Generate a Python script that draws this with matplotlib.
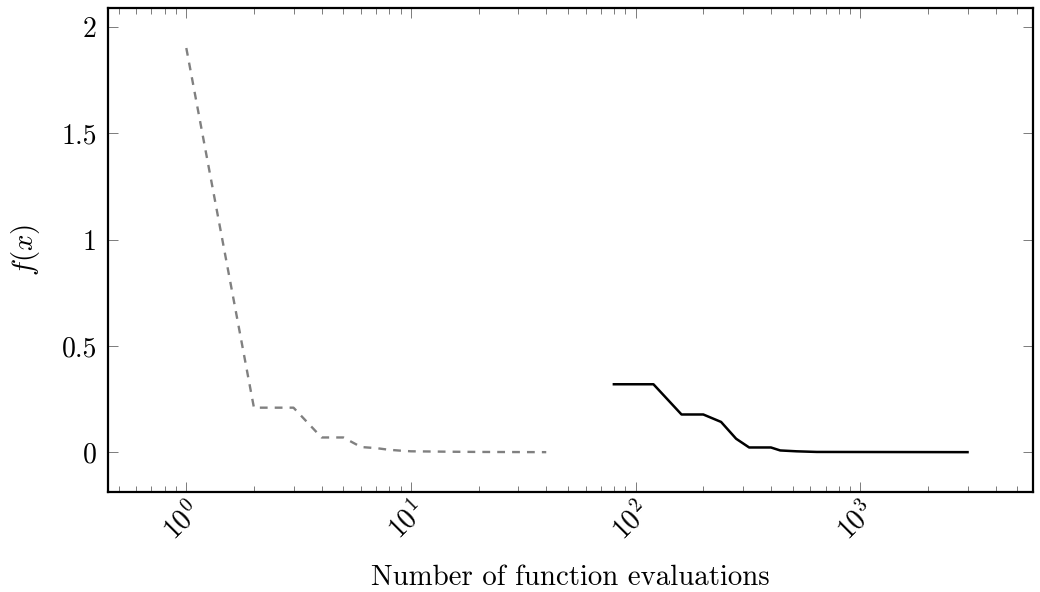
import matplotlib
matplotlib.use("Agg")
import matplotlib.pyplot as plt
from matplotlib.ticker import LogLocator, NullFormatter, FixedLocator

plt.rcParams["font.family"] = "serif"
plt.rcParams["font.serif"] = ["cmr10"]
plt.rcParams["mathtext.fontset"] = "cm"
plt.rcParams["axes.formatter.use_mathtext"] = True
plt.rcParams["axes.unicode_minus"] = False

# first optimiser: one evaluation per step
evals_a = [1, 2, 3, 4, 5, 6, 7, 8, 9, 10, 15, 20, 40]
fx_a = [1.9, 0.21, 0.21, 0.07, 0.07, 0.025, 0.02, 0.012, 0.008, 0.005, 0.003, 0.002, 0.001]

# second optimiser: batches of 40 evaluations
evals_b = [80, 120, 160, 200, 240, 280, 320, 360, 400, 440, 520, 640, 3000]
fx_b = [0.32, 0.32, 0.178, 0.178, 0.143, 0.064, 0.023, 0.023, 0.023, 0.009, 0.005, 0.002, 0.001]

yticks = [0, 0.5, 1, 1.5, 2]
ytick_labels = ["0", "0.5", "1", "1.5", "2"]

fig = plt.figure(figsize=(10.4, 5.92), dpi=100)
ax = fig.add_axes([0.1038, 0.169, 0.8895, 0.8175])

ax.plot(evals_a, fx_a, color="#808080", linewidth=1.7, dashes=(3.3, 3.0))
ax.plot(evals_b, fx_b, color="black", linewidth=1.8)

ax.set_xscale("log")
ax.set_xlim(0.448, 5870)
ax.set_ylim(-0.186, 2.088)

ax.xaxis.set_major_locator(LogLocator(base=10, numticks=10))
ax.xaxis.set_minor_locator(LogLocator(base=10, subs=range(2, 10), numticks=20))
ax.xaxis.set_minor_formatter(NullFormatter())
ax.yaxis.set_major_locator(FixedLocator(yticks))
ax.set_yticklabels(ytick_labels)

ax.tick_params(which="both", direction="in", top=True, right=True,
               color="#666666", width=0.6)
ax.tick_params(which="major", length=7, labelsize=20)
ax.tick_params(axis="y", which="major", pad=8)
ax.tick_params(which="minor", length=4.3)
for lbl in ax.get_xticklabels():
    lbl.set_rotation(45)
    lbl.set_ha("right")
    lbl.set_rotation_mode("anchor")

for sp in ax.spines.values():
    sp.set_linewidth(1.6)

ax.set_xlabel("Number of function evaluations", fontsize=20.8, labelpad=14)
ax.set_ylabel(r"$f(x)$", fontsize=20.8, labelpad=14)

fig.savefig("out.png")
plt.close(fig)
